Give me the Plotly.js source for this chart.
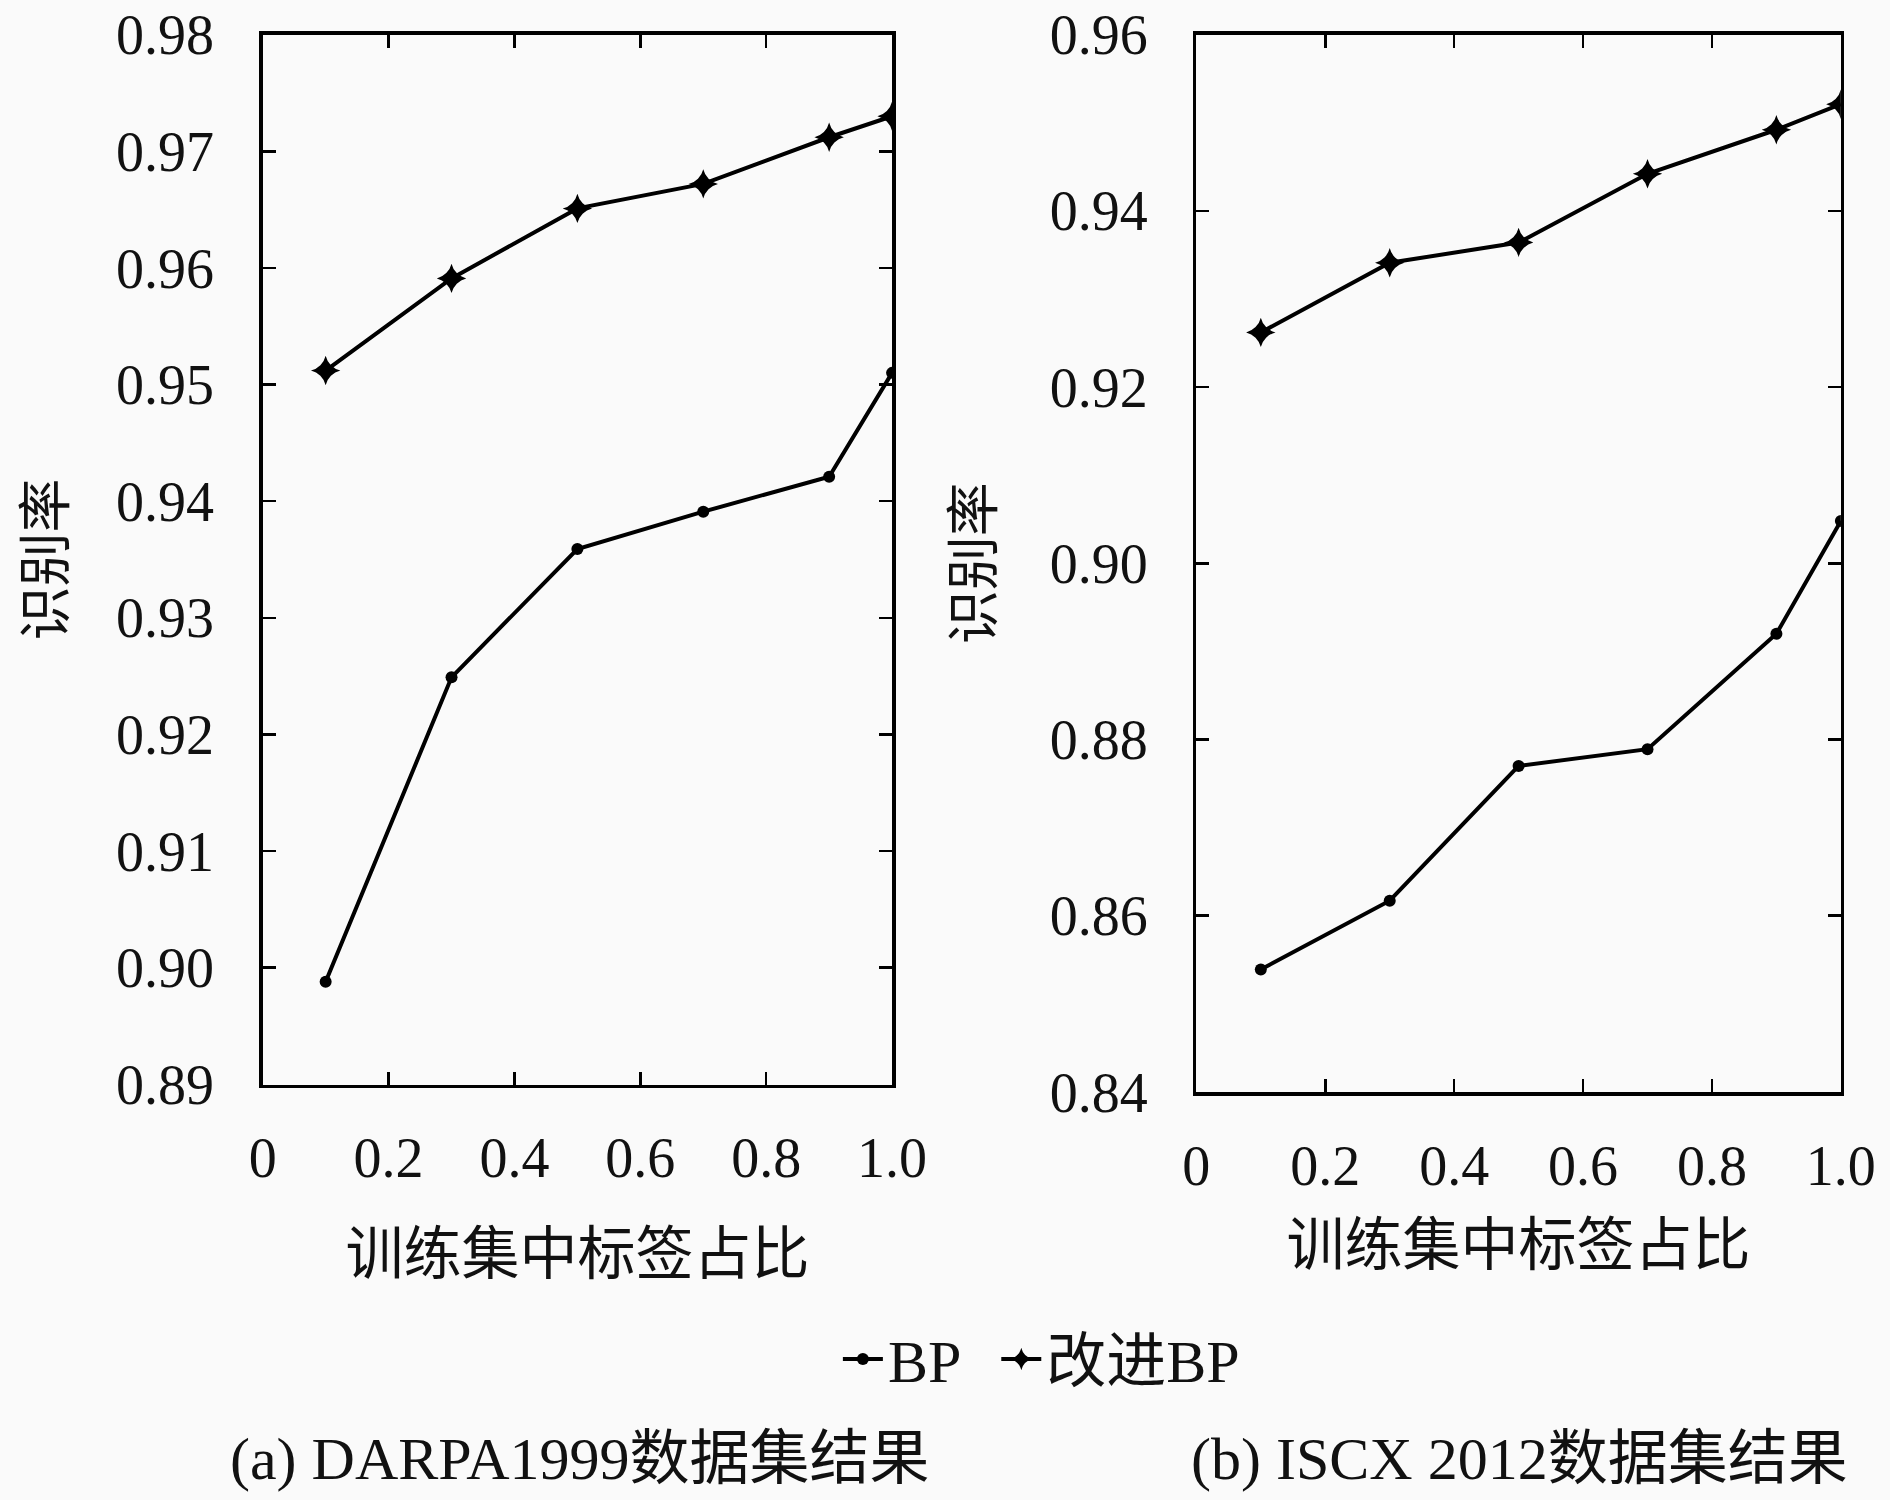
<!DOCTYPE html>
<html>
<head>
<meta charset="utf-8">
<script src="https://cdn.plot.ly/plotly-3.0.1.min.js"></script>
<style>
  html, body { margin: 0; padding: 0; background: #fafafa; }
  #chart { width: 1890px; height: 1500px; }
</style>
</head>
<body>
<div id="chart"></div>
<script>
const ratios = [0.1, 0.3, 0.5, 0.7, 0.9, 1.0];

const darpaBP = [0.8988, 0.9249, 0.9359, 0.9391, 0.9421, 0.9510];
const darpaImproved = [0.9512, 0.9591, 0.9651, 0.9672, 0.9712, 0.9730];

const iscxBP = [0.8539, 0.8617, 0.8770, 0.8789, 0.8920, 0.9048];
const iscxImproved = [0.9262, 0.9341, 0.9364, 0.9442, 0.9492, 0.9521];

const xTickVals = [0, 0.2, 0.4, 0.6, 0.8, 1.0];
const xTickText = ['0', '0.2', '0.4', '0.6', '0.8', '1.0'];
const darpaTicks = [0.89, 0.90, 0.91, 0.92, 0.93, 0.94, 0.95, 0.96, 0.97, 0.98];
const iscxTicks = [0.84, 0.86, 0.88, 0.90, 0.92, 0.94, 0.96];

const FONT = '"Liberation Serif", "DejaVu Serif", "Noto Sans CJK SC", serif';
const CJK = '"Liberation Serif", "Noto Sans CJK SC", serif';

const bpStyle = {
  mode: 'lines+markers',
  line: { color: '#000', width: 4 },
  marker: { symbol: 'circle', size: 12, color: '#000' },
};
const improvedStyle = {
  mode: 'lines+markers',
  line: { color: '#000', width: 4 },
  marker: { symbol: 'star-diamond', size: 21, color: '#000' },
};

const traces = [
  { x: ratios, y: darpaBP, name: 'BP\u2002', xaxis: 'x', yaxis: 'y', ...bpStyle },
  { x: ratios, y: darpaImproved, name: '改进BP', xaxis: 'x', yaxis: 'y', ...improvedStyle },
  { x: ratios, y: iscxBP, name: 'BP', xaxis: 'x2', yaxis: 'y2', showlegend: false, ...bpStyle },
  { x: ratios, y: iscxImproved, name: '改进BP', xaxis: 'x2', yaxis: 'y2', showlegend: false, ...improvedStyle },
];

function xAxis(domain, anchor, titleGap) {
  return {
    domain: domain,
    anchor: anchor,
    range: [0, 1],
    tickvals: xTickVals,
    ticktext: xTickText,
    ticks: 'inside',
    ticklen: 13,
    tickwidth: 2.5,
    tickcolor: '#000',
    showline: true,
    linewidth: 3.5,
    linecolor: '#000',
    mirror: 'ticks',
    showgrid: false,
    zeroline: false,
    ticklabelstandoff: 22,
    ticklabeloverflow: 'allow',
    tickfont: { family: FONT, size: 56, color: '#111' },
    title: { text: '训练集中标签占比', font: { family: CJK, size: 58, color: '#111' }, standoff: titleGap },
  };
}

function yAxis(domain, anchor, range, ticks, titleGap) {
  return {
    domain: domain,
    anchor: anchor,
    range: range,
    tickvals: ticks,
    tickformat: '.2f',
    ticks: 'inside',
    ticklen: 13,
    tickwidth: 2.5,
    tickcolor: '#000',
    showline: true,
    linewidth: 3.5,
    linecolor: '#000',
    mirror: 'ticks',
    showgrid: false,
    zeroline: false,
    ticklabelstandoff: 34,
    ticklabeloverflow: 'allow',
    tickfont: { family: FONT, size: 56, color: '#111' },
    title: { text: '识别率', font: { family: CJK, size: 54, color: '#111' }, standoff: titleGap },
  };
}

const layout = {
  width: 1890,
  height: 1500,
  margin: { l: 0, r: 0, t: 0, b: 0 },
  paper_bgcolor: '#fafafa',
  plot_bgcolor: '#fafafa',
  font: { family: FONT, color: '#111' },
  xaxis: xAxis([0.139, 0.472], 'y', 46),
  yaxis: yAxis([0.277, 0.977], 'x', [0.88999, 0.98001], darpaTicks, 34),
  xaxis2: xAxis([0.633, 0.974], 'y2', 29),
  yaxis2: yAxis([0.272, 0.977], 'x2', [0.83999, 0.96001], iscxTicks, 40),
  legend: {
    orientation: 'h',
    x: 0.551,
    xanchor: 'center',
    y: 0.094,
    yanchor: 'middle',
    bgcolor: 'rgba(0,0,0,0)',
    font: { family: CJK, size: 60, color: '#111' },
    itemwidth: 40,
  },
  annotations: [
    {
      text: '(a) DARPA1999数据集结果',
      xref: 'paper', yref: 'paper',
      x: 579 / 1890, y: 1 - 1459 / 1500,
      xanchor: 'center', yanchor: 'middle',
      showarrow: false,
      font: { family: CJK, size: 60, color: '#111' },
    },
    {
      text: '(b) ISCX 2012数据集结果',
      xref: 'paper', yref: 'paper',
      x: 1519 / 1890, y: 1 - 1459 / 1500,
      xanchor: 'center', yanchor: 'middle',
      showarrow: false,
      font: { family: CJK, size: 60, color: '#111' },
    },
  ],
};

Plotly.newPlot('chart', traces, layout, { displayModeBar: false, staticPlot: true });
</script>
</body>
</html>
